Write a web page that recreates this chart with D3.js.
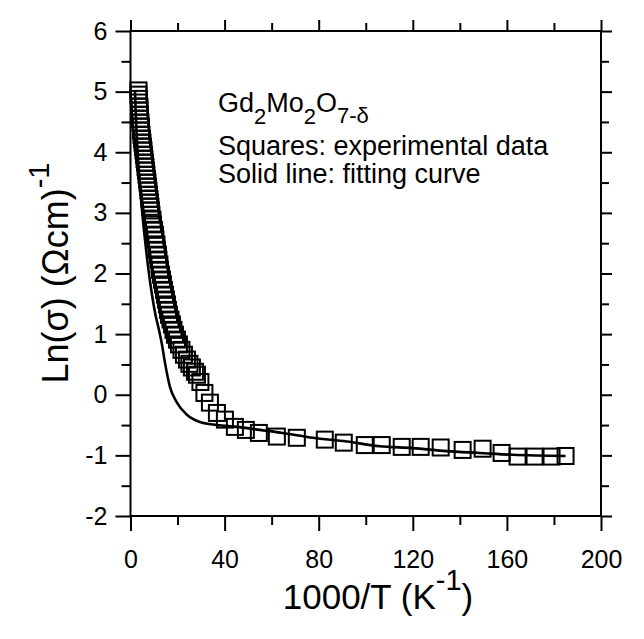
<!DOCTYPE html>
<html>
<head>
<meta charset="utf-8">
<script src="https://cdn.jsdelivr.net/npm/d3@7"></script>
<style>
  html, body { margin: 0; padding: 0; background: #fff; }
  svg { display: block; font-family: "Liberation Sans", Arial, sans-serif; }
</style>
</head>
<body>
<svg id="chart" width="644" height="639"></svg>
<script>
// ---- data ----
const expX = [3.40,3.40,3.61,3.61,3.82,3.82,4.03,4.03,4.25,4.46,
  4.46,4.67,4.88,5.10,5.31,5.52,5.73,5.94,6.16,6.37,
  6.58,6.79,7.01,7.22,7.43,7.64,7.86,8.07,8.28,8.49,
  8.70,8.92,9.34,9.55,9.98,10.40,10.62,11.04,11.25,11.68,
  11.89,12.31,12.53,12.95,13.38,13.80,14.23,14.65,15.07,15.50,
  15.92,16.35,16.99,17.62,18.26,18.90,19.75,20.59,21.66,22.72,
  23.99,25.05,26.11,27.39,28.24,
  29.72,31.42,33.76,36.73,40.13,44.37,49.04,54.56,62.21,70.70,
  82.59,90.66,99.58,106.79,115.29,123.35,131.85,141.19,149.68,157.75,
  164.54,171.76,178.98,184.93];
const expY = [5.02,4.95,4.88,4.82,4.75,4.69,4.62,4.55,4.49,4.42,
  4.36,4.29,4.22,4.16,4.09,4.03,3.96,3.89,3.83,3.76,
  3.70,3.63,3.56,3.50,3.43,3.37,3.30,3.23,3.17,3.10,
  3.04,2.97,2.89,2.81,2.72,2.64,2.56,2.48,2.39,2.31,
  2.23,2.15,2.06,1.98,1.90,1.82,1.73,1.65,1.57,1.49,
  1.40,1.32,1.24,1.16,1.07,0.99,0.91,0.83,0.74,0.66,
  0.58,0.51,0.45,0.38,0.33,
  0.21,0.03,-0.13,-0.30,-0.41,-0.53,-0.58,-0.63,-0.69,-0.71,
  -0.74,-0.79,-0.83,-0.83,-0.86,-0.86,-0.87,-0.91,-0.89,-0.96,
  -1.02,-1.02,-1.02,-1.01];
const fitX = [1.91,2.34,2.97,3.82,4.88,6.16,7.64,9.13,10.62,12.10,13.38,14.65,16.77,19.75,
  23.99,29.51,36.73,45.22,54.99,64.76,77.49,91.93,105.94,119.96,134.39,148.41,162.42,184.93];
const fitY = [5.00,4.54,4.04,3.55,3.05,2.56,2.06,1.65,1.32,1.07,0.83,0.53,0.13,-0.13,
  -0.33,-0.45,-0.50,-0.53,-0.58,-0.63,-0.71,-0.77,-0.85,-0.88,-0.93,-0.96,-0.99,-1.01];
const xMajor = [0,40,80,120,160,200];
const xMinor = [20,60,100,140,180];
const yMajor = [-2,-1,0,1,2,3,4,5,6];
const yMinor = [-1.5,-0.5,0.5,1.5,2.5,3.5,4.5,5.5];

// ---- layout ----
const svg = d3.select("#chart");
const L = 130.5, R = 601, T = 31, B = 516;
const x = d3.scaleLinear().domain([0,200]).range([L,R]);
const y = d3.scaleLinear().domain([-2,6]).range([B,T]);
const MAJ = 15, MIN = 9;
const fmt = d => String(d);

function styleAxis(g) {
  g.select(".domain").remove();
  g.selectAll(".tick line").attr("stroke","#000").attr("stroke-width",2);
  g.selectAll(".tick text").attr("fill","#000").attr("font-size",25)
    .attr("font-family","'Liberation Sans', Arial, sans-serif");
}

// bottom
svg.append("g").attr("transform",`translate(0,${B})`)
  .call(d3.axisBottom(x).tickValues(xMajor).tickSize(MAJ).tickPadding(19).tickFormat(fmt))
  .call(styleAxis);
svg.append("g").attr("transform",`translate(0,${B})`)
  .call(d3.axisBottom(x).tickValues(xMinor).tickSize(MIN).tickFormat(""))
  .call(styleAxis);
// top
svg.append("g").attr("transform",`translate(0,${T})`)
  .call(d3.axisTop(x).tickValues(xMajor).tickSize(MAJ-4).tickFormat(""))
  .call(styleAxis);
svg.append("g").attr("transform",`translate(0,${T})`)
  .call(d3.axisTop(x).tickValues(xMinor).tickSize(MIN-1).tickFormat(""))
  .call(styleAxis);
// left
svg.append("g").attr("transform",`translate(${L},0)`)
  .call(d3.axisLeft(y).tickValues(yMajor).tickSize(MAJ).tickPadding(8).tickFormat(fmt))
  .call(styleAxis);
svg.append("g").attr("transform",`translate(${L},0)`)
  .call(d3.axisLeft(y).tickValues(yMinor).tickSize(MIN).tickFormat(""))
  .call(styleAxis);
// right
svg.append("g").attr("transform",`translate(${R},0)`)
  .call(d3.axisRight(y).tickValues(yMajor).tickSize(MAJ-4).tickFormat(""))
  .call(styleAxis);
svg.append("g").attr("transform",`translate(${R},0)`)
  .call(d3.axisRight(y).tickValues(yMinor).tickSize(MIN-1).tickFormat(""))
  .call(styleAxis);

// frame
svg.append("rect").attr("x",L).attr("y",T).attr("width",R-L).attr("height",B-T)
  .attr("fill","none").attr("stroke","#000").attr("stroke-width",2);

// squares
const S = 16;
const pts = expX.map((v,i)=>({x:v,y:expY[i]}));
svg.append("g").selectAll("rect").data(pts).join("rect")
  .attr("x",d=>x(d.x)-S/2).attr("y",d=>y(d.y)-S/2)
  .attr("width",S).attr("height",S)
  .attr("fill","none").attr("stroke","#000").attr("stroke-width",2);

// fit curve
const fit = fitX.map((v,i)=>[v,fitY[i]]);
svg.append("path").datum(fit)
  .attr("d", d3.line().x(d=>x(d[0])).y(d=>y(d[1])).curve(d3.curveMonotoneX))
  .attr("fill","none").attr("stroke","#000").attr("stroke-width",2.6);

// legend text
const lg = svg.append("g").attr("font-size",27).attr("fill","#000");
const t1 = lg.append("text").attr("x",218).attr("y",112);
t1.append("tspan").text("Gd");
t1.append("tspan").attr("dy",12).attr("font-size",22).text("2");
t1.append("tspan").attr("dy",-12).text("Mo");
t1.append("tspan").attr("dy",12).attr("font-size",22).text("2");
t1.append("tspan").attr("dy",-12).text("O");
t1.append("tspan").attr("dy",11).attr("font-size",22).text("7-δ");
lg.append("text").attr("x",218).attr("y",155).text("Squares: experimental data");
lg.append("text").attr("x",218).attr("y",183).text("Solid line: fitting curve");

// axis titles
const xt = svg.append("text").attr("x",378).attr("y",609).attr("text-anchor","middle")
  .attr("font-size",35).attr("fill","#000");
xt.append("tspan").text("1000/T (K");
xt.append("tspan").attr("dy",-19).attr("font-size",29).text("-1");
xt.append("tspan").attr("dy",19).text(")");

const yt = svg.append("text").attr("transform","translate(68,273) rotate(-90)")
  .attr("text-anchor","middle").attr("font-size",36).attr("fill","#000");
yt.append("tspan").text("Ln(σ) (Ωcm)");
yt.append("tspan").attr("dy",-19).attr("font-size",29).text("-1");
</script>
</body>
</html>
